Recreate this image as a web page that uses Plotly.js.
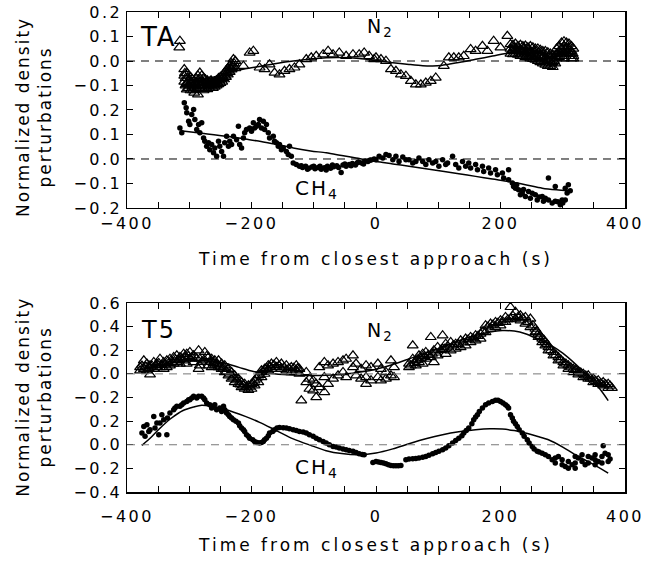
<!DOCTYPE html>
<html>
<head>
<meta charset="utf-8">
<script src="https://cdn.plot.ly/plotly-3.0.1.min.js"></script>
<style>
  html, body { margin: 0; padding: 0; background: #fff; }
  #chart { width: 645px; height: 561px; }
  .xtick text, .x2tick text, .ytick text, .y2tick text { letter-spacing: 2.5px; }
  .xtitle, .x2title { letter-spacing: 3px; }
  .annotation-text { letter-spacing: 2px; }
</style>
</head>
<body>
<div id="chart"></div>
<script>
// ---------------- DATA ----------------
// Offsets used to stack N2 above CH4 on one axis (as in the original figure)
const taN2Offset = 0.4;
const t5N2Offset = 0.6;

// x ticks (s)
const xTickVals = [-400,-350,-300,-250,-200,-150,-100,-50,0,50,100,150,200,250,300,350,400];
const xTickText = ['−400','','','','−200','','','','0','','','','200','','','','400'];

// y ticks
const taYTickVals = [-0.2,-0.1,0,0.1,0.2,0.3,0.4,0.5,0.6];
const taYTickText = ['−0.2','−0.1','0.0','0.1','0.2','−0.1','0.0','0.1','0.2'];
const t5YTickVals = [-0.4,-0.2,0,0.2,0.4,0.6,0.8,1.0,1.2];
const t5YTickText = ['−0.4','−0.2','0.0','0.2','−0.2','0.0','0.2','0.4','0.6'];

// TA flyby, N2 perturbations [time s, value]
const taN2Points = [
 [-315,0.082],[-316,0.055],
 [-308,-0.034],[-308,-0.06],[-308,-0.085],[-306,-0.07],[-306,-0.1],
 [-304,-0.05],[-304,-0.09],[-304,-0.116],[-301,-0.08],[-301,-0.11],
 [-298,-0.065],[-298,-0.095],[-298,-0.12],[-295,-0.075],[-295,-0.105],
 [-292,-0.08],[-292,-0.11],[-292,-0.13],[-289,-0.07],[-289,-0.1],
 [-286,-0.06],[-286,-0.09],[-286,-0.137],[-283,-0.048],[-283,-0.085],[-283,-0.11],
 [-280,-0.06],[-280,-0.1],[-277,-0.07],[-277,-0.09],[-277,-0.12],
 [-274,-0.075],[-274,-0.105],[-271,-0.08],[-271,-0.1],[-271,-0.115],
 [-268,-0.085],[-268,-0.11],[-265,-0.08],[-265,-0.1],[-262,-0.09],[-262,-0.11],
 [-259,-0.085],[-259,-0.105],[-256,-0.08],[-256,-0.1],[-253,-0.07],[-253,-0.095],
 [-250,-0.065],[-250,-0.09],[-247,-0.06],[-247,-0.085],[-244,-0.05],[-244,-0.075],
 [-241,-0.04],[-241,-0.065],[-238,-0.03],[-238,-0.055],[-235,-0.02],[-235,-0.045],
 [-232,-0.01],[-232,-0.035],[-229,0.007],[-229,-0.02],[-226,0.0],[-226,-0.03],
 [-307,-0.05],[-305,-0.095],[-303,-0.07],[-300,-0.1],[-297,-0.085],[-294,-0.12],
 [-291,-0.095],[-288,-0.115],[-285,-0.075],[-282,-0.1],[-279,-0.085],[-276,-0.1],
 [-273,-0.09],[-270,-0.095],[-267,-0.1],[-264,-0.09],[-261,-0.1],[-258,-0.095],
 [-255,-0.09],[-252,-0.08],[-249,-0.075],[-246,-0.07],[-243,-0.06],[-240,-0.05],
 [-237,-0.04],[-234,-0.03],[-231,-0.025],[-228,-0.01],
 [-213,-0.02],[-203,0.034],[-197,0.041],[-187,-0.027],[-179,-0.034],[-171,-0.014],
 [-163,-0.048],[-155,-0.055],[-147,-0.041],[-139,-0.034],[-131,-0.027],[-123,-0.014],
 [-112,0.007],[-104,0.014],[-96,0.02],[-85,0.027],[-77,0.041],[-69,0.027],[-59,0.034],
 [-48,0.02],[-37,0.027],[-27,0.027],[-19,0.034],[-11,0.02],[-3,0.007],
 [0,0.014],[8,0.007],[16,0.0],[24,-0.034],[32,-0.041],[40,-0.055],[48,-0.061],
 [56,-0.082],[64,-0.096],[72,-0.096],[80,-0.089],[88,-0.082],[96,-0.068],
 [109,-0.02],[117,0.014],[125,0.014],[133,0.014],[141,0.02],[152,0.048],[160,0.041],
 [171,0.061],[179,0.041],[189,0.082],[200,0.055],[211,0.102],
 [216,0.068],[216,0.05],[216,0.03],[220,0.065],[220,0.045],[220,0.027],
 [224,0.07],[224,0.05],[224,0.03],[228,0.06],[228,0.04],[228,0.025],
 [232,0.065],[232,0.045],[232,0.02],[236,0.06],[236,0.04],[236,0.02],
 [240,0.062],[240,0.035],[240,0.015],[244,0.055],[244,0.035],[244,0.015],
 [248,0.06],[248,0.03],[248,0.01],[252,0.055],[252,0.03],[252,0.008],
 [256,0.05],[256,0.025],[256,0.005],[260,0.05],[260,0.025],[260,0.0],
 [264,0.045],[264,0.02],[264,-0.005],[268,0.04],[268,0.015],[268,-0.01],
 [272,0.04],[272,0.01],[272,-0.015],[276,0.035],[276,0.005],[276,-0.02],
 [280,0.03],[280,0.0],[280,-0.02],[284,0.025],[284,-0.005],[284,-0.025],
 [288,0.02],[288,-0.01],
 [218,0.04],[222,0.055],[226,0.04],[230,0.05],[234,0.03],[238,0.05],[242,0.025],
 [246,0.045],[250,0.02],[254,0.04],[258,0.015],[262,0.035],[266,0.01],[270,0.025],
 [274,0.0],[278,0.02],[282,-0.01],[286,0.0],
 [290,0.03],[290,0.05],[290,0.01],[294,0.06],[294,0.04],[294,0.015],
 [298,0.075],[298,0.05],[298,0.02],[302,0.08],[302,0.06],[302,0.03],[302,0.01],
 [306,0.075],[306,0.055],[306,0.035],[310,0.07],[310,0.05],[310,0.02],
 [314,0.06],[314,0.04],[314,0.01],[317,0.05],[317,0.02],[317,0.01],
 [292,0.03],[296,0.03],[300,0.045],[304,0.045],[308,0.04],[312,0.03],[316,0.03]
];
const taN2Fit = [
 [-312,-0.10],[-290,-0.085],[-270,-0.072],[-250,-0.058],[-235,-0.045],[-210,-0.032],
 [-187,-0.022],[-160,-0.01],[-133,0.0],[-105,0.008],[-80,0.013],[-55,0.014],[-27,0.01],
 [0,0.002],[27,-0.007],[53,-0.014],[75,-0.019],[91,-0.02],[105,-0.018],[117,-0.013],
 [140,-0.003],[160,0.007],[187,0.02],[213,0.033],[240,0.037],[270,0.033],[300,0.025],[316,0.02]
];

// TA flyby, CH4 perturbations
const taCh4Points = [
 [-315,0.127],[-312,0.107],[-308,0.230],[-305,0.209],[-304,0.189],[-301,0.154],[-299,0.141],
 [-296,0.182],[-293,0.202],[-291,0.161],[-288,0.120],[-285,0.141],[-283,0.107],[-280,0.148],
 [-277,0.086],[-275,0.072],[-272,0.052],[-269,0.066],[-267,0.038],[-264,0.059],[-261,0.025],
 [-259,0.045],[-256,0.011],[-253,0.072],[-251,0.052],[-248,0.031],[-245,0.011],[-243,0.066],
 [-240,0.093],[-237,0.052],[-235,0.072],[-232,0.059],[-229,0.093],[-224,0.079],[-221,0.134],
 [-219,0.059],[-216,0.045],[-213,0.086],[-211,0.107],[-208,0.120],[-203,0.127],[-200,0.113],
 [-197,0.148],[-195,0.127],[-192,0.134],[-189,0.141],[-187,0.161],[-184,0.127],[-181,0.154],
 [-179,0.120],[-176,0.141],[-173,0.107],[-171,0.086],[-165,0.093],[-163,0.072],[-160,0.066],
 [-157,0.052],[-155,0.059],[-152,0.038],[-149,0.045],[-144,0.031],[-141,0.018],[-139,0.052],
 [-136,0.011],[-133,-0.016],[-128,-0.023],[-123,-0.030],
 [-120,-0.028],[-118,-0.035],[-113,-0.03],[-110,-0.042],[-108,-0.038],[-103,-0.033],[-100,-0.03],
 [-98,-0.04],[-93,-0.035],[-90,-0.03],[-88,-0.042],[-83,-0.036],[-80,-0.045],[-78,-0.03],
 [-73,-0.038],[-70,-0.025],[-68,-0.032],[-63,-0.028],[-60,-0.035],[-56,-0.055],[-53,-0.025],
 [-50,-0.02],[-48,-0.03],[-43,-0.022],[-40,-0.028],[-38,-0.018],[-33,-0.025],[-30,-0.015],
 [-28,-0.012],[-23,-0.016],[-20,-0.02],[-18,-0.008],[-13,-0.01],[-10,-0.005],[-8,-0.004],[-3,0.0],
 [0,-0.003],[5,0.011],[11,0.004],[16,0.018],[21,0.014],[27,-0.003],[32,0.011],[37,-0.01],
 [43,0.008],[48,-0.003],[53,-0.003],[59,-0.016],[64,-0.01],[69,0.004],[75,-0.01],[80,-0.023],
 [85,-0.003],[91,-0.016],[96,-0.01],[101,-0.03],[107,-0.003],[112,-0.023],[115,-0.016],
 [123,0.011],[128,-0.023],[133,-0.037],[139,-0.01],[144,-0.03],[149,-0.016],[152,-0.037],
 [160,-0.023],[163,-0.044],[171,-0.03],[173,-0.051],[181,-0.037],[184,-0.057],[192,-0.044],
 [195,-0.064],[203,-0.057],[205,-0.078],[213,-0.044],[213,-0.085],[219,-0.098],[221,-0.112],
 [224,-0.119],[226,-0.105],[229,-0.126],[232,-0.146],[235,-0.139],[237,-0.125],[240,-0.153],
 [245,-0.133],[248,-0.160],[251,-0.14],[256,-0.146],[259,-0.167],[262,-0.155],[267,-0.153],
 [269,-0.173],[272,-0.16],[277,-0.078],[277,-0.167],[283,-0.180],[288,-0.112],[288,-0.173],
 [292,-0.175],[296,-0.187],[299,-0.167],[300,-0.18],[304,-0.119],[304,-0.167],[307,-0.139],
 [309,-0.105],[312,-0.13]
];
const taCh4Fit = [
 [-314,0.115],[-280,0.105],[-240,0.093],[-210,0.082],[-187,0.072],[-160,0.06],[-133,0.045],
 [-105,0.033],[-80,0.025],[-55,0.014],[-32,0.004],[0,-0.01],[27,-0.02],[53,-0.03],[80,-0.04],
 [107,-0.05],[133,-0.06],[160,-0.071],[187,-0.082],[213,-0.092],[240,-0.105],[267,-0.119],
 [290,-0.126],[310,-0.13]
];

// T5 flyby, N2 perturbations
const t5N2Points = [
 [-379,0.056],[-379,0.028],[-373,0.113],[-373,0.042],[-368,0.085],[-368,0.028],
 [-363,-0.006],[-363,0.071],[-357,0.099],[-357,0.042],[-352,0.085],[-352,0.056],
 [-347,0.127],[-347,0.056],[-341,0.099],[-341,0.042],[-336,0.113],[-336,0.056],
 [-331,0.127],[-331,0.071],[-325,0.141],[-325,0.085],[-320,0.155],[-320,0.099],
 [-315,0.141],[-315,0.085],[-309,0.169],[-309,0.113],[-304,0.169],[-304,0.085],
 [-299,0.184],[-299,0.127],[-293,0.155],[-293,0.099],[-285,0.198],[-285,0.042],
 [-283,0.127],[-283,0.071],[-275,0.184],[-275,0.113],[-269,0.141],[-269,0.071],
 [-264,0.127],[-264,0.056],[-259,0.113],[-259,0.071],[-253,0.113],[-253,0.056],
 [-248,0.085],[-248,0.042],[-243,0.071],[-243,0.014],[-237,0.042],[-237,-0.014],
 [-232,0.014],[-232,-0.042],[-227,-0.014],[-227,-0.071],[-221,-0.042],[-221,-0.085],
 [-216,-0.071],[-216,-0.113],[-211,-0.085],[-211,-0.127],[-205,-0.099],[-205,-0.136],
 [-200,-0.085],[-200,-0.127],[-195,-0.056],[-195,-0.099],[-189,-0.014],[-189,-0.071],
 [-184,0.028],[-184,-0.028],[-179,0.042],[-179,0.0],[-173,0.071],[-173,0.028],
 [-168,0.085],[-168,0.042],[-160,0.099],[-160,0.056],[-152,0.085],[-152,0.042],
 [-144,0.071],[-144,0.028],[-136,0.056],[-136,0.014],[-128,0.071],[-128,0.028],
 [-376,0.07],[-370,0.06],[-365,0.05],[-360,0.07],[-354,0.07],[-349,0.09],[-344,0.075],
 [-339,0.08],[-333,0.09],[-328,0.1],[-322,0.12],[-317,0.115],[-312,0.13],[-307,0.14],
 [-301,0.15],[-296,0.14],[-288,0.13],[-280,0.1],[-272,0.15],[-266,0.1],[-261,0.09],
 [-256,0.085],[-250,0.06],[-245,0.045],[-240,0.02],[-235,0.0],[-229,-0.03],[-224,-0.055],
 [-218,-0.09],[-213,-0.1],[-208,-0.115],[-203,-0.11],[-197,-0.08],[-192,-0.04],[-187,-0.01],
 [-181,0.015],[-176,0.05],[-170,0.06],[-164,0.075],[-156,0.07],[-148,0.055],[-140,0.045],
 [-132,0.05],[-126,0.045],
 [-123,0.042],[-123,0.0],[-120,-0.226],[-112,0.014],[-112,-0.071],[-107,-0.042],[-107,-0.127],
 [-101,-0.056],[-101,-0.141],[-96,-0.198],[-96,-0.085],[-91,0.056],[-91,-0.113],
 [-83,0.099],[-83,-0.028],[-83,-0.155],[-77,0.071],[-77,-0.085],[-69,0.085],[-69,-0.042],
 [-61,0.099],[-61,-0.014],[-53,0.113],[-53,0.014],[-48,0.127],[-48,-0.028],
 [-37,0.155],[-37,0.056],[-32,0.085],[-32,-0.014],[-24,0.042],[-24,-0.042],
 [-16,0.071],[-16,-0.028],[-16,-0.085],[-8,0.056],[-8,-0.056],
 [3,0.085],[3,-0.028],[8,0.042],[8,-0.056],[16,0.014],[16,-0.042],[24,0.113],[24,-0.014],
 [29,0.056],[29,-0.028],[53,0.056],[53,0.085],[59,0.240],[59,0.127],[64,0.113],[64,0.071],
 [69,0.155],[69,0.099],[75,0.169],[75,0.085],[80,0.184],[80,0.127],[88,0.311],[88,0.141],
 [93,0.198],[93,0.099],[99,0.226],[99,0.155],[107,0.325],[107,0.212],[112,0.254],[112,0.169],
 [120,0.268],[120,0.198],[128,0.254],[128,0.212],[136,0.282],[136,0.226],[144,0.297],[144,0.240],
 [152,0.311],[152,0.268],[160,0.325],[160,0.282],[168,0.339],[168,0.297],[176,0.410],[176,0.353],
 [184,0.424],[184,0.381],[192,0.438],[192,0.395],[200,0.452],[200,0.410],[208,0.480],[208,0.438],
 [216,0.565],[216,0.466],[224,0.523],[224,0.466],[232,0.494],[232,0.452],[240,0.480],[240,0.424],
 [248,0.466],[248,0.395],[256,0.381],[256,0.353],[261,0.339],[261,0.311],[267,0.297],[267,0.268],
 [272,0.268],[272,0.240],[277,0.226],[277,0.198],[285,0.184],[285,0.155],[293,0.141],[293,0.113],
 [301,0.099],[301,0.071],[309,0.071],[309,0.042],[317,0.042],[317,0.014],[325,0.014],[325,-0.006],
 [333,0.0],[333,-0.028],[341,-0.014],[341,-0.042],[349,-0.042],[349,-0.071],[357,-0.056],[357,-0.085],
 [365,-0.071],[365,-0.099],[373,-0.085],[373,-0.119],[379,-0.119],
 [56,0.07],[62,0.09],[67,0.12],[72,0.13],[78,0.15],[84,0.16],[90,0.17],[96,0.18],[104,0.2],
 [110,0.21],[116,0.23],[124,0.24],[132,0.25],[140,0.265],[148,0.29],[156,0.3],[164,0.32],
 [172,0.36],[180,0.4],[188,0.415],[196,0.43],[204,0.44],[212,0.46],[220,0.49],[228,0.48],
 [236,0.47],[244,0.44],[252,0.41],[258,0.36],[264,0.32],[270,0.285],[275,0.25],[281,0.2],
 [289,0.16],[297,0.12],[305,0.085],[313,0.055],[321,0.03],[329,0.01],[337,-0.015],[345,-0.04],
 [353,-0.06],[361,-0.08],[369,-0.09],[376,-0.1]
];
const t5N2Fit = [
 [-380,0.03],[-350,0.07],[-320,0.1],[-290,0.115],[-265,0.11],[-245,0.095],[-220,0.055],
 [-197,0.02],[-170,0.003],[-140,-0.008],[-110,-0.014],[-80,-0.012],[-50,-0.002],[-25,0.015],
 [0,0.04],[27,0.08],[53,0.127],[80,0.177],[107,0.226],[133,0.28],[160,0.325],[183,0.355],
 [203,0.367],[222,0.362],[240,0.34],[258,0.3],[277,0.254],[300,0.175],[320,0.085],[335,0.01],
 [347,-0.056],[360,-0.13],[373,-0.226]
];

// T5 flyby, CH4 perturbations
const t5Ch4Points = [
 [-376,0.099],[-373,0.155],[-371,0.071],[-368,0.169],[-365,0.113],[-363,0.127],[-357,0.240],
 [-355,0.141],[-352,0.184],[-349,0.085],[-347,0.184],[-344,0.254],[-341,0.212],[-336,0.085],
 [-335,0.226],[-331,0.268],[-325,0.297],[-323,0.311],[-320,0.325],[-315,0.325],[-312,0.339],
 [-309,0.353],[-304,0.367],[-301,0.381],[-299,0.381],[-296,0.395],[-293,0.410],[-288,0.395],
 [-285,0.410],[-280,0.410],[-277,0.395],[-275,0.381],[-272,0.353],[-267,0.339],[-264,0.311],
 [-261,0.325],[-259,0.339],[-256,0.297],[-251,0.311],[-248,0.282],[-245,0.325],[-243,0.297],
 [-240,0.268],[-237,0.254],[-235,0.240],[-232,0.226],[-229,0.212],[-225,0.198],[-221,0.184],
 [-219,0.161],[-216,0.141],[-213,0.127],[-211,0.113],[-208,0.085],[-205,0.071],[-203,0.056],
 [-198,0.042],[-195,0.028],[-191,0.020],[-187,0.014],[-184,0.020],[-181,0.028],[-179,0.042],
 [-176,0.056],[-173,0.076],[-171,0.099],[-166,0.113],[-163,0.127],[-159,0.141],[-155,0.147],
 [-149,0.144],[-144,0.141],[-139,0.136],[-133,0.127],[-128,0.121],[-123,0.113],[-117,0.107],
 [-112,0.099],[-107,0.085],[-101,0.071],[-96,0.056],[-91,0.042],[-85,0.028],[-80,0.014],
 [-75,0.0],[-69,-0.014],[-64,-0.020],[-59,-0.028],[-53,-0.037],[-48,-0.042],[-43,-0.048],
 [-37,-0.056],[-32,-0.065],[-27,-0.076],[-22,-0.082],[-19,-0.085],[-5,-0.150],
 [0,-0.141],[4,-0.147],[8,-0.150],[12,-0.155],[16,-0.161],[20,-0.169],[24,-0.175],[28,-0.178],
 [32,-0.178],[36,-0.178],[40,-0.175],
 [48,-0.127],[53,-0.121],[59,-0.119],[64,-0.116],[69,-0.113],[75,-0.105],[80,-0.099],
 [85,-0.088],[91,-0.076],[96,-0.065],[101,-0.056],[107,-0.042],[112,-0.028],[117,-0.008],
 [123,0.014],[128,0.037],[133,0.056],[138,0.076],[141,0.099],[145,0.121],[149,0.141],
 [154,0.178],[157,0.212],[160,0.234],[163,0.254],[166,0.282],[171,0.311],[176,0.339],
 [181,0.353],[187,0.367],[192,0.376],[196,0.376],[200,0.367],[204,0.353],[208,0.339],
 [211,0.325],[213,0.311],[216,0.254],[219,0.226],[221,0.198],[224,0.178],[227,0.155],
 [230,0.127],[235,0.099],[238,0.071],[243,0.042],[246,0.014],[251,-0.014],[254,-0.037],
 [259,-0.056],[262,-0.062],[267,-0.071],[272,-0.085],[277,-0.099],[283,-0.127],
 [288,-0.113],[288,-0.155],[293,-0.099],[299,-0.127],[299,-0.169],[304,-0.184],[309,-0.198],
 [309,-0.141],[315,-0.169],[320,-0.155],[320,-0.198],[320,-0.099],[325,-0.113],[331,-0.085],
 [331,-0.141],[336,-0.169],[341,-0.099],[341,-0.155],[347,-0.113],[352,-0.127],[352,-0.085],
 [352,-0.169],[357,-0.141],[363,-0.099],[363,-0.155],[365,-0.008],[368,-0.071],
 [373,-0.085],[373,-0.141],[376,-0.121]
];
const t5Ch4Fit = [
 [-376,-0.005],[-360,0.07],[-347,0.14],[-330,0.22],[-310,0.29],[-293,0.32],[-280,0.335],
 [-260,0.32],[-240,0.297],[-210,0.24],[-187,0.19],[-160,0.12],[-133,0.05],[-105,-0.005],
 [-80,-0.05],[-55,-0.075],[-27,-0.085],[0,-0.07],[27,-0.035],[53,0.008],[80,0.05],[107,0.085],
 [133,0.11],[160,0.127],[183,0.135],[203,0.133],[222,0.12],[240,0.1],[260,0.07],[277,0.042],
 [300,-0.02],[320,-0.085],[347,-0.16],[373,-0.24]
];

// ---------------- PLOT ----------------
const X = p => p.map(d => d[0]);
const Y = (p, off) => p.map(d => d[1] + (off || 0));

const tri = {symbol: 'triangle-up-open', size: 9.5, color: '#000', line: {width: 1.2, color: '#000'}};
const dot = {symbol: 'circle', size: 5.5, color: '#000'};
const fitLine = {color: '#000', width: 1.5, shape: 'spline', smoothing: 0.8};

const traces = [
  {x: X(taN2Points), y: Y(taN2Points, taN2Offset), mode: 'markers', marker: tri, xaxis: 'x', yaxis: 'y'},
  {x: X(taN2Fit), y: Y(taN2Fit, taN2Offset), mode: 'lines', line: fitLine, xaxis: 'x', yaxis: 'y'},
  {x: X(taCh4Points), y: Y(taCh4Points), mode: 'markers', marker: dot, xaxis: 'x', yaxis: 'y'},
  {x: X(taCh4Fit), y: Y(taCh4Fit), mode: 'lines', line: fitLine, xaxis: 'x', yaxis: 'y'},
  {x: X(t5N2Points), y: Y(t5N2Points, t5N2Offset), mode: 'markers', marker: tri, xaxis: 'x2', yaxis: 'y2'},
  {x: X(t5N2Fit), y: Y(t5N2Fit, t5N2Offset), mode: 'lines', line: fitLine, xaxis: 'x2', yaxis: 'y2'},
  {x: X(t5Ch4Points), y: Y(t5Ch4Points), mode: 'markers', marker: dot, xaxis: 'x2', yaxis: 'y2'},
  {x: X(t5Ch4Fit), y: Y(t5Ch4Fit), mode: 'lines', line: fitLine, xaxis: 'x2', yaxis: 'y2'}
];

const font = {family: 'DejaVu Sans, sans-serif', size: 16, color: '#000'};
const axisCommon = {
  showline: true, linecolor: '#000', linewidth: 1.5, mirror: 'ticks',
  ticks: 'inside', ticklen: 6, tickwidth: 1, tickcolor: '#000',
  showgrid: false, zeroline: false, tickfont: font, fixedrange: true
};
const xAxis = (anchor, labelPad, titlePad) => Object.assign({}, axisCommon, {
  anchor: anchor, range: [-400, 400], tickmode: 'array', tickvals: xTickVals, ticktext: xTickText,
  ticklabelstandoff: labelPad,
  title: {text: 'Time from closest approach (s)', font: {family: font.family, size: 17, color: '#000'}, standoff: titlePad}
});

const dashShape = (yref, y, color) => ({
  type: 'line', xref: 'x' + (yref === 'y' ? '' : '2'), yref: yref, x0: -400, x1: 400, y0: y, y1: y,
  line: {color: color, width: 1, dash: '8px,6px'}
});

const ann = (xref, yref, x, y, text, size, xanchor) => ({
  xref: xref, yref: yref, x: x, y: y, text: text, showarrow: false,
  xanchor: xanchor || 'left', yanchor: 'middle', font: {family: font.family, size: size, color: '#000'}
});

const yTitle = (y) => ({
  xref: 'paper', yref: 'paper', x: -0.187, y: y, text: 'Normalized density<br>perturbations',
  showarrow: false, textangle: -90, xanchor: 'center', yanchor: 'middle',
  font: {family: font.family, size: 17, color: '#000'}
});

const layout = {
  width: 645, height: 561,
  margin: {l: 127, r: 20, t: 12, b: 69},
  paper_bgcolor: '#fff', plot_bgcolor: '#fff',
  showlegend: false, font: font,
  xaxis: xAxis('y', 0, 21),
  xaxis2: xAxis('y2', 9, 14),
  yaxis: Object.assign({}, axisCommon, {domain: [0.5917, 1], anchor: 'x', range: [-0.2, 0.6],
    tickmode: 'array', tickvals: taYTickVals, ticktext: taYTickText}),
  yaxis2: Object.assign({}, axisCommon, {domain: [0, 0.39375], anchor: 'x2', range: [-0.4, 1.2],
    tickmode: 'array', tickvals: t5YTickVals, ticktext: t5YTickText}),
  shapes: [
    dashShape('y', 0, '#000'), dashShape('y', taN2Offset, '#000'),
    dashShape('y2', 0, '#777'), dashShape('y2', t5N2Offset, '#777')
  ],
  annotations: [
    ann('x', 'y', -349, 0.496, 'TA', 26, 'center'),
    ann('x', 'y', -17.6, 0.537, 'N<sub>2</sub>', 19),
    ann('x', 'y', -134, -0.123, 'CH<sub>4</sub>', 20),
    ann('x2', 'y2', -350, 0.975, 'T5', 24, 'center'),
    ann('x2', 'y2', -17.6, 0.958, 'N<sub>2</sub>', 19),
    ann('x2', 'y2', -134, -0.195, 'CH<sub>4</sub>', 20),
    yTitle(0.781), yTitle(0.198)
  ]
};

Plotly.newPlot('chart', traces, layout, {displayModeBar: false, staticPlot: true});
</script>
</body>
</html>
